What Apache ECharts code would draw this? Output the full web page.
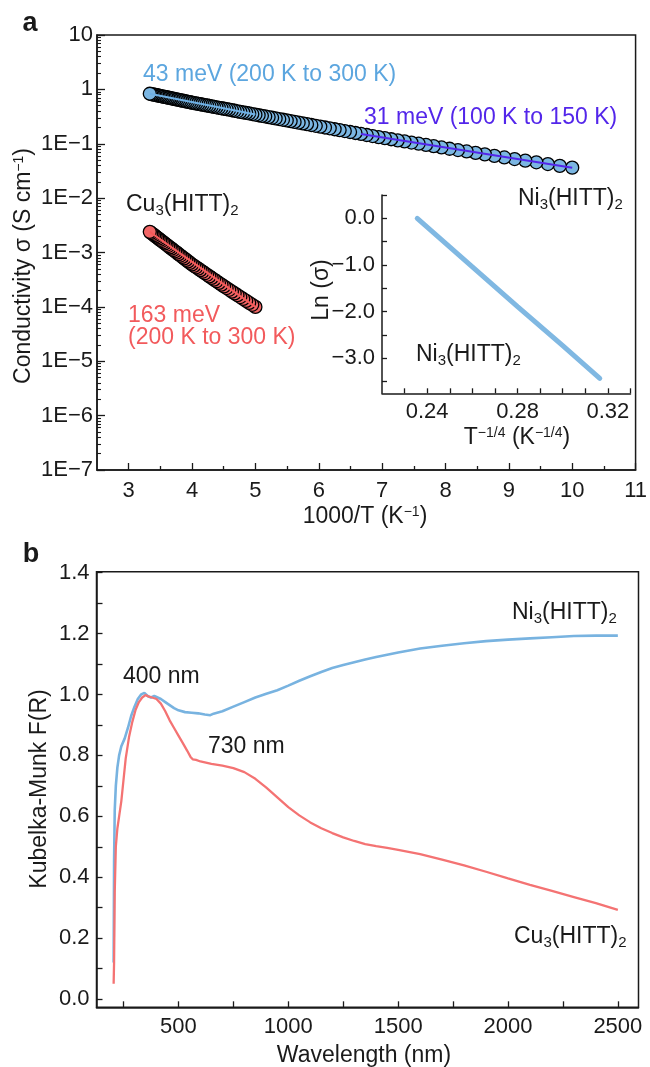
<!DOCTYPE html>
<html>
<head>
<meta charset="utf-8">
<script src="https://cdn.jsdelivr.net/npm/echarts@6/dist/echarts.min.js"></script>
<style>
  html, body { margin: 0; padding: 0; background: #fff; }
  #chart { width: 650px; height: 1067px; }
</style>
</head>
<body>
<div id="chart"></div>
<script>
// ---------- panel a: conductivity vs 1000/T ----------
// Ni3(HITT)2, temperatures (K) and log10 of conductivity (S cm^-1)
const niTemperature = [100,102,104,106,108,110,112,114,116,118,120,122,124,126,128,130,132,134,136,138,
  140,142,144,146,148,150,152,154,156,158,160,162,164,166,168,170,172,174,176,178,
  180,182,184,186,188,190,192,194,196,198,200,202,204,206,208,210,212,214,216,218,
  220,222,224,226,228,230,232,234,236,238,240,242,244,246,248,250,252,254,256,258,
  260,262,264,266,268,270,272,274,276,278,280,282,284,286,288,290,292,294,296,298,300];
const niLogSigma = [-1.440,-1.406,-1.373,-1.341,-1.310,-1.281,-1.252,-1.223,-1.195,-1.168,
  -1.142,-1.116,-1.092,-1.068,-1.044,-1.022,-0.999,-0.978,-0.957,-0.937,
  -0.917,-0.898,-0.878,-0.858,-0.839,-0.820,-0.802,-0.784,-0.766,-0.749,
  -0.733,-0.716,-0.701,-0.685,-0.670,-0.655,-0.640,-0.626,-0.612,-0.598,
  -0.585,-0.571,-0.559,-0.546,-0.534,-0.522,-0.510,-0.498,-0.487,-0.476,
  -0.465,-0.454,-0.443,-0.433,-0.423,-0.413,-0.403,-0.393,-0.384,-0.374,
  -0.365,-0.356,-0.347,-0.339,-0.330,-0.322,-0.313,-0.305,-0.297,-0.289,
  -0.282,-0.274,-0.267,-0.259,-0.252,-0.245,-0.237,-0.229,-0.222,-0.214,
  -0.207,-0.200,-0.193,-0.185,-0.179,-0.172,-0.165,-0.158,-0.152,-0.145,
  -0.139,-0.133,-0.127,-0.121,-0.114,-0.108,-0.103,-0.097,-0.091,-0.086,-0.080];

// Cu3(HITT)2
const cuTemperature = [200,202,204,206,208,210,212,214,216,218,220,222,224,226,228,230,232,234,236,238,
  240,242,244,246,248,250,252,254,256,258,260,262,264,266,268,270,272,274,276,278,
  280,282,284,286,288,290,292,294,296,298,300];
const cuLogSigma = [-4.000,-3.962,-3.926,-3.889,-3.854,-3.819,-3.785,-3.751,-3.719,-3.686,
  -3.654,-3.624,-3.591,-3.560,-3.529,-3.498,-3.468,-3.439,-3.410,-3.382,
  -3.354,-3.326,-3.298,-3.272,-3.246,-3.220,-3.192,-3.164,-3.136,-3.109,
  -3.082,-3.056,-3.030,-3.003,-2.978,-2.954,-2.929,-2.905,-2.881,-2.858,
  -2.834,-2.812,-2.789,-2.768,-2.745,-2.724,-2.703,-2.681,-2.661,-2.641,-2.620];

// Arrhenius fits (end temperatures and log10 sigma at the ends)
const niFitHighT = [300, 200];
const niFitHighLog = [-0.080, -0.462];
const niFitLowT = [150, 100];
const niFitLowLog = [-0.820, -1.440];
const cuFitT = [300, 200];
const cuFitLog = [-2.620, -4.000];

// inset: Mott VRH plot, ln(sigma) vs T^-1/4
const vrhX = [0.2356, 0.2600, 0.2800, 0.3000, 0.3164];
const vrhLnSigma = [0.00, -1.04, -1.89, -2.73, -3.43];

// axis ticks for panel a
const invTTicks = [3, 4, 5, 6, 7, 8, 9, 10, 11];
const invTMinorTicks = [3.5, 4.5, 5.5, 6.5, 7.5, 8.5, 9.5, 10.5];
const sigmaTicks = [1e-7, 1e-6, 1e-5, 1e-4, 1e-3, 1e-2, 1e-1, 1, 10];
const sigmaTickLabels = ['1E\u22127', '1E\u22126', '1E\u22125', '1E\u22124', '1E\u22123', '1E\u22122', '1E\u22121', '1', '10'];
const vrhXTicks = [0.23, 0.24, 0.25, 0.26, 0.27, 0.28, 0.29, 0.30, 0.31, 0.32, 0.33];
const vrhXLabels = [0.24, 0.28, 0.32];
const vrhYTicks = [-3.5, -3.0, -2.5, -2.0, -1.5, -1.0, -0.5, 0.0, 0.5];
const vrhYLabels = [-3.0, -2.0, -1.0, 0.0];

// ---------- panel b: diffuse reflectance (Kubelka-Munk) ----------
const niWavelength = [205,207,210,215,222,230,240,255,270,285,300,315,330,345,360,375,390,405,420,440,
  460,480,500,530,560,590,620,645,660,700,750,800,850,900,950,1000,1050,1100,1150,1200,
  1250,1300,1350,1400,1500,1600,1700,1800,1900,2000,2100,2200,2300,2400,2500];
const niKM = [0.12,0.45,0.62,0.70,0.76,0.80,0.83,0.855,0.89,0.93,0.96,0.985,1.0,1.005,0.995,0.99,0.995,0.99,0.985,0.975,
  0.965,0.955,0.948,0.942,0.94,0.938,0.934,0.932,0.937,0.945,0.96,0.975,0.99,1.002,1.014,1.029,1.045,1.06,1.074,1.087,
  1.097,1.106,1.115,1.123,1.138,1.151,1.16,1.168,1.175,1.18,1.184,1.188,1.192,1.193,1.193];

const cuWavelength = [205,207,210,215,222,230,240,250,260,275,290,305,320,335,350,365,380,400,420,440,
  460,480,500,520,540,555,565,580,600,650,700,750,800,850,900,950,1000,1050,1100,1150,
  1200,1250,1300,1350,1400,1450,1500,1600,1700,1800,1900,2000,2100,2200,2300,2400,2500];
const cuKM = [0.05,0.12,0.35,0.50,0.56,0.60,0.65,0.72,0.79,0.86,0.91,0.95,0.975,0.99,0.998,0.993,0.99,0.985,0.97,0.945,
  0.915,0.89,0.865,0.84,0.815,0.795,0.787,0.785,0.78,0.772,0.766,0.758,0.745,0.723,0.694,0.662,0.630,0.603,0.580,0.561,
  0.545,0.531,0.519,0.509,0.502,0.496,0.49,0.476,0.458,0.439,0.418,0.396,0.375,0.355,0.335,0.315,0.293];

const wlTicks = [250, 500, 750, 1000, 1250, 1500, 1750, 2000, 2250, 2500];
const wlLabels = [500, 1000, 1500, 2000, 2500];
const kmTicks = [0.0, 0.1, 0.2, 0.3, 0.4, 0.5, 0.6, 0.7, 0.8, 0.9, 1.0, 1.1, 1.2, 1.3, 1.4];
const kmLabels = [0.0, 0.2, 0.4, 0.6, 0.8, 1.0, 1.2, 1.4];

// ---------- styling ----------
const FONT = '"Liberation Sans", Arial, Helvetica, sans-serif';
const INK = '#1a1a1a';
const NI_BLUE = '#7bb6e2';
const NI_TEXT = '#5ca6df';
const VIOLET = '#5326ea';
const CU_RED = '#f26666';
const CU_TEXT = '#f25a5c';

const arrhenius = (temps, logs) => temps.map((t, i) => [1000 / t, Math.pow(10, logs[i])]);
const pairs = (xs, ys) => xs.map((x, i) => [x, ys[i]]);
const minusFmt = (v, digits) => (v < 0 ? '\u2212' : '') + Math.abs(v).toFixed(digits);

function axisBase(gridIndex, extra) {
  return Object.assign({
    gridIndex,
    type: 'value',
    axisLine: { show: true, onZero: false, lineStyle: { color: INK, width: 1.5 } },
    splitLine: { show: false },
    axisLabel: { color: INK, fontFamily: FONT, fontSize: 22 }
  }, extra);
}

// text with {sub|..} and {sup|..} fragments
function textEl(text, x, y, o) {
  o = o || {};
  const size = o.size || 23;
  const fill = o.fill || INK;
  const subSize = Math.round(size * 0.66);
  const supSize = Math.round(size * 0.62);
  return {
    type: 'text', x, y, rotation: o.rotation || 0, z: 20, silent: true,
    style: {
      text, fill, fontSize: size, fontFamily: FONT, fontWeight: o.weight || 'normal',
      lineHeight: size + 6,
      align: o.align || 'left', verticalAlign: 'middle',
      rich: {
        sub: { fontSize: subSize, lineHeight: subSize, fontFamily: FONT, fill, verticalAlign: 'bottom', padding: [0, 0, 1, 0] },
        sup: { fontSize: supSize, lineHeight: supSize, fontFamily: FONT, fill, verticalAlign: 'top', padding: [3, 0, 0, 0] }
      }
    }
  };
}

const chart = echarts.init(document.getElementById('chart'), null, { renderer: 'canvas' });

chart.setOption({
  animation: false,
  backgroundColor: '#fff',
  grid: [
    { left: 97, top: 35, width: 541, height: 435, show: true, borderColor: INK, borderWidth: 1.5 },
    { left: 382, top: 195, width: 248.5, height: 198.3 },
    { left: 96.5, top: 571.7, width: 542, height: 435.6, show: true, borderColor: INK, borderWidth: 1.5 }
  ],
  xAxis: [
    axisBase(0, {
      min: 2.5, max: 11, position: 'bottom',
      axisTick: { inside: true, length: 7, customValues: invTTicks, lineStyle: { color: INK, width: 1.3 } },
      axisLabel: { color: INK, fontFamily: FONT, fontSize: 22, margin: 10, customValues: invTTicks }
    }),
    axisBase(0, {
      min: 2.5, max: 11, position: 'bottom',
      axisLine: { show: false, onZero: false },
      axisTick: { inside: true, length: 4, customValues: invTMinorTicks, lineStyle: { color: INK, width: 1.3 } },
      axisLabel: { show: false }
    }),
    axisBase(1, {
      min: 0.22, max: 0.33, position: 'bottom',
      axisTick: { inside: true, length: 5, customValues: vrhXTicks, lineStyle: { color: INK, width: 1.3 } },
      axisLabel: { color: INK, fontFamily: FONT, fontSize: 22, margin: 8, customValues: vrhXLabels,
        formatter: v => v.toFixed(2) }
    }),
    axisBase(2, {
      min: 127, max: 2594, position: 'bottom',
      axisTick: { inside: true, length: 6, customValues: wlTicks, lineStyle: { color: INK, width: 1.3 } },
      axisLabel: { color: INK, fontFamily: FONT, fontSize: 22, margin: 9, customValues: wlLabels,
        formatter: v => String(Math.round(v)) }
    })
  ],
  yAxis: [
    axisBase(0, {
      type: 'log', logBase: 10, min: 1e-7, max: 10, position: 'left',
      axisTick: { inside: true, length: 8, customValues: sigmaTicks, lineStyle: { color: INK, width: 1.3 } },
      axisLabel: { color: INK, fontFamily: FONT, fontSize: 22, margin: 4, customValues: sigmaTicks,
        formatter: v => {
          const i = sigmaTicks.findIndex(t => Math.abs(Math.log10(t) - Math.log10(v)) < 1e-6);
          return i >= 0 ? sigmaTickLabels[i] : '';
        } }
    }),
    axisBase(0, {
      type: 'log', logBase: 10, min: 1e-7, max: 10, position: 'left',
      axisLine: { show: false, onZero: false },
      axisTick: { inside: true, length: 4, lineStyle: { color: INK, width: 1.1 },
        customValues: [2e-7,3e-7,4e-7,5e-7,6e-7,7e-7,8e-7,9e-7, 2e-6,3e-6,4e-6,5e-6,6e-6,7e-6,8e-6,9e-6,
          2e-5,3e-5,4e-5,5e-5,6e-5,7e-5,8e-5,9e-5, 2e-4,3e-4,4e-4,5e-4,6e-4,7e-4,8e-4,9e-4,
          2e-3,3e-3,4e-3,5e-3,6e-3,7e-3,8e-3,9e-3, 0.02,0.03,0.04,0.05,0.06,0.07,0.08,0.09,
          0.2,0.3,0.4,0.5,0.6,0.7,0.8,0.9, 2,3,4,5,6,7,8,9] },
      axisLabel: { show: false }
    }),
    axisBase(1, {
      min: -3.75, max: 0.5, position: 'left',
      axisTick: { inside: true, length: 5, customValues: vrhYTicks, lineStyle: { color: INK, width: 1.3 } },
      axisLabel: { color: INK, fontFamily: FONT, fontSize: 22, margin: 7, customValues: vrhYLabels,
        formatter: v => minusFmt(v, 1) }
    }),
    axisBase(2, {
      min: -0.027, max: 1.403, position: 'left',
      axisTick: { inside: true, length: 6, customValues: kmTicks, lineStyle: { color: INK, width: 1.3 } },
      axisLabel: { color: INK, fontFamily: FONT, fontSize: 22, margin: 7, customValues: kmLabels,
        formatter: v => v.toFixed(1) }
    })
  ],
  series: [
    {
      name: 'Ni3(HITT)2', type: 'scatter', xAxisIndex: 0, yAxisIndex: 0,
      data: arrhenius(niTemperature, niLogSigma),
      symbol: 'circle', symbolSize: 13,
      itemStyle: { color: NI_BLUE, borderColor: '#000', borderWidth: 1.3, opacity: 1 },
      z: 3
    },
    {
      name: 'Cu3(HITT)2', type: 'scatter', xAxisIndex: 0, yAxisIndex: 0,
      data: arrhenius(cuTemperature, cuLogSigma),
      symbol: 'circle', symbolSize: 13,
      itemStyle: { color: CU_RED, borderColor: '#000', borderWidth: 1.3, opacity: 1 },
      z: 3
    },
    {
      name: 'fit 200-300 K (Ni)', type: 'line', xAxisIndex: 0, yAxisIndex: 0,
      data: arrhenius(niFitHighT, niFitHighLog), showSymbol: false, symbol: 'none',
      lineStyle: { color: '#6fb0e4', width: 2 }, z: 4
    },
    {
      name: 'fit 100-150 K (Ni)', type: 'line', xAxisIndex: 0, yAxisIndex: 0,
      data: arrhenius(niFitLowT, niFitLowLog), showSymbol: false, symbol: 'none',
      lineStyle: { color: VIOLET, width: 2 }, z: 4
    },
    {
      name: 'fit 200-300 K (Cu)', type: 'line', xAxisIndex: 0, yAxisIndex: 0,
      data: arrhenius(cuFitT, cuFitLog), showSymbol: false, symbol: 'none',
      lineStyle: { color: '#f65a5a', width: 2 }, z: 4
    },
    {
      name: 'VRH', type: 'line', xAxisIndex: 2, yAxisIndex: 2,
      data: pairs(vrhX, vrhLnSigma), showSymbol: false, symbol: 'none',
      lineStyle: { color: '#80b8e2', width: 5, cap: 'round' }
    },
    {
      name: 'Ni3(HITT)2 KM', type: 'line', xAxisIndex: 3, yAxisIndex: 3,
      data: pairs(niWavelength, niKM), showSymbol: false, symbol: 'none',
      lineStyle: { color: '#78b3e0', width: 2.6 }
    },
    {
      name: 'Cu3(HITT)2 KM', type: 'line', xAxisIndex: 3, yAxisIndex: 3,
      data: pairs(cuWavelength, cuKM), showSymbol: false, symbol: 'none',
      lineStyle: { color: '#f47373', width: 2.3 }
    }
  ],
  graphic: [
    // panel a
    textEl('a', 30, 24, { size: 27, weight: 'bold', align: 'center' }),
    textEl('43 meV (200 K to 300 K)', 143, 75, { fill: NI_TEXT }),
    textEl('31 meV (100 K to 150 K)', 364, 118, { fill: VIOLET }),
    textEl('Ni{sub|3}(HITT){sub|2}', 518, 199),
    textEl('Cu{sub|3}(HITT){sub|2}', 126, 205),
    textEl('163 meV', 128, 316, { fill: CU_TEXT }),
    textEl('(200 K to 300 K)', 128, 338, { fill: CU_TEXT }),
    textEl('Ni{sub|3}(HITT){sub|2}', 416, 355),
    textEl('Conductivity \u03c3 (S cm{sup|\u22121})', 24, 266, { rotation: Math.PI / 2, align: 'center' }),
    textEl('1000/T (K{sup|\u22121})', 365, 517, { align: 'center' }),
    textEl('Ln (\u03c3)', 322, 290, { rotation: Math.PI / 2, align: 'center' }),
    textEl('T{sup|\u22121/4} (K{sup|\u22121/4})', 517, 438, { align: 'center' }),
    // panel b
    textEl('b', 31, 555, { size: 27, weight: 'bold', align: 'center' }),
    textEl('Ni{sub|3}(HITT){sub|2}', 512, 613),
    textEl('400 nm', 123, 677),
    textEl('730 nm', 208, 747),
    textEl('Cu{sub|3}(HITT){sub|2}', 514, 937),
    textEl('Kubelka-Munk F(R)', 40, 789, { rotation: Math.PI / 2, align: 'center' }),
    textEl('Wavelength (nm)', 364, 1056, { align: 'center' })
  ]
});
</script>
</body>
</html>
